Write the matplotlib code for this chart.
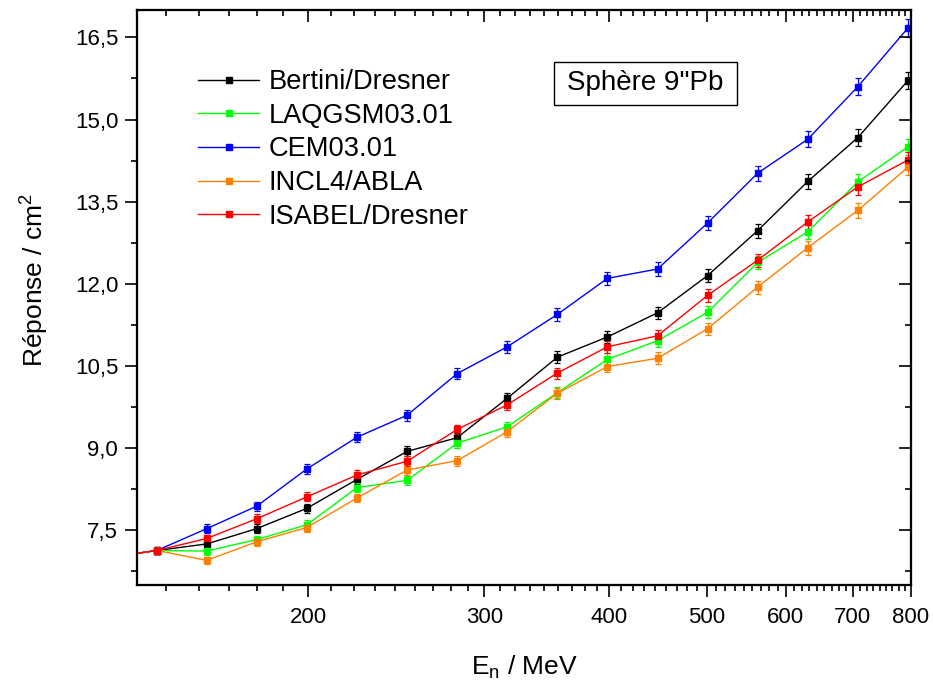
import matplotlib
matplotlib.use("Agg")
import matplotlib.pyplot as plt
from matplotlib.ticker import FixedLocator, FuncFormatter, NullFormatter, MultipleLocator
from matplotlib.patches import Rectangle

plt.rcParams['font.family'] = ['Liberation Sans', 'DejaVu Sans']
plt.rcParams['mathtext.fontset'] = 'custom'
plt.rcParams['mathtext.rm'] = 'Liberation Sans'
plt.rcParams['mathtext.it'] = 'Liberation Sans:italic'

# ---------------- data ----------------
energy = [125.9, 141.3, 158.5, 177.8, 199.5, 223.9, 251.2, 281.8, 316.2,
          354.8, 398.1, 446.7, 501.2, 562.3, 631.0, 707.9, 794.3]

bertini = [7.00, 7.13, 7.25, 7.53, 7.90, 8.43, 8.94, 9.19, 9.91,
           10.66, 11.03, 11.47, 12.15, 12.97, 13.87, 14.67, 15.71]
laqgsm = [7.00, 7.13, 7.12, 7.33, 7.60, 8.28, 8.41, 9.09, 9.39,
          10.01, 10.62, 10.96, 11.48, 12.39, 12.95, 13.86, 14.50]
cem = [7.00, 7.13, 7.53, 7.94, 8.62, 9.20, 9.60, 10.36, 10.85,
       11.44, 12.10, 12.27, 13.11, 14.02, 14.64, 15.60, 16.67]
incl = [7.00, 7.13, 6.95, 7.29, 7.55, 8.09, 8.60, 8.77, 9.30,
        10.00, 10.49, 10.64, 11.18, 11.94, 12.66, 13.34, 14.13]
isabel = [7.00, 7.13, 7.35, 7.71, 8.11, 8.51, 8.76, 9.34, 9.79,
          10.37, 10.85, 11.05, 11.79, 12.43, 13.13, 13.77, 14.26]

err_bertini = [0.07, 0.07, 0.07, 0.08, 0.08, 0.08, 0.09, 0.09, 0.10,
               0.11, 0.11, 0.11, 0.12, 0.13, 0.14, 0.15, 0.16]
err_laqgsm = [0.07, 0.07, 0.07, 0.07, 0.08, 0.08, 0.08, 0.09, 0.09,
              0.10, 0.11, 0.11, 0.11, 0.12, 0.13, 0.14, 0.15]
err_cem = [0.07, 0.07, 0.08, 0.08, 0.09, 0.09, 0.10, 0.10, 0.11,
           0.11, 0.12, 0.12, 0.13, 0.14, 0.15, 0.16, 0.17]
err_incl = [0.07, 0.07, 0.07, 0.07, 0.08, 0.08, 0.09, 0.09, 0.09,
            0.10, 0.10, 0.11, 0.11, 0.12, 0.13, 0.13, 0.14]
err_isabel = [0.07, 0.07, 0.07, 0.08, 0.08, 0.09, 0.09, 0.09, 0.10,
              0.10, 0.11, 0.11, 0.12, 0.12, 0.13, 0.14, 0.14]

labels = ['Bertini/Dresner', 'LAQGSM03.01', 'CEM03.01', 'INCL4/ABLA', 'ISABEL/Dresner']
series = [bertini, laqgsm, cem, incl, isabel]
errors = [err_bertini, err_laqgsm, err_cem, err_incl, err_isabel]
colors = ['#000000', '#00FF00', '#0000FF', '#FF8000', '#FF0000']

x_major = [200, 300, 400, 500, 600, 700, 800]
y_major = [7.5, 9.0, 10.5, 12.0, 13.5, 15.0, 16.5]
annotation = 'Sphère 9"Pb'

# ---------------- figure ----------------
W, H = 933, 691
fig = plt.figure(figsize=(W / 100, H / 100), dpi=100)
ax = fig.add_axes([137 / W, 1 - 585 / H, 774 / W, 575 / H])

handles = []
for y, e, c, lab in zip(series, errors, colors, labels):
    cont = ax.errorbar(energy, y, yerr=e, color=c, lw=1.0, marker='s', ms=4,
                       mec=c, mfc=c, elinewidth=0.9, capsize=2.5, capthick=0.9,
                       label=lab)
    handles.append(cont[0])

ax.set_xscale('log')
xlim = (135, 800)
ylim = (6.5, 17.0)
ax.set_xlim(*xlim)
ax.set_ylim(*ylim)

x_minor = []
for h in range(100, 800, 100):
    for j in range(1, 9):
        v = h + 100 * j / 9
        if xlim[0] <= v <= xlim[1]:
            x_minor.append(v)

def fmt_y(v, pos):
    return ('%.1f' % v).replace('.', ',')

ax.xaxis.set_major_locator(FixedLocator(x_major))
ax.xaxis.set_minor_locator(FixedLocator(x_minor))
ax.xaxis.set_major_formatter(FuncFormatter(lambda v, p: '%d' % round(v)))
ax.xaxis.set_minor_formatter(NullFormatter())
ax.yaxis.set_major_locator(FixedLocator(y_major))
ax.yaxis.set_minor_locator(MultipleLocator(0.75))
ax.yaxis.set_major_formatter(FuncFormatter(fmt_y))

ax.tick_params(axis='both', which='major', direction='out', length=8.5, width=1.2, labelsize=16)
ax.tick_params(axis='both', which='minor', direction='out', length=4.5, width=1.2)
ax.tick_params(axis='x', which='major', pad=7)
ax.tick_params(axis='y', which='major', pad=5)

# mirrored inward ticks on top and right
axt = ax.twiny()
axt.set_xscale('log')
axt.set_xlim(*xlim)
axt.xaxis.set_major_locator(FixedLocator(x_major))
axt.xaxis.set_minor_locator(FixedLocator(x_minor))
axt.xaxis.set_major_formatter(NullFormatter())
axt.xaxis.set_minor_formatter(NullFormatter())
axt.tick_params(axis='x', which='both', direction='in', top=True, bottom=False,
                labeltop=False, labelbottom=False, width=1.2)
axt.tick_params(axis='x', which='major', length=8.5)
axt.tick_params(axis='x', which='minor', length=4.5)

axr = ax.twinx()
axr.set_ylim(*ylim)
axr.yaxis.set_major_locator(FixedLocator(y_major))
axr.yaxis.set_minor_locator(MultipleLocator(0.75))
axr.yaxis.set_major_formatter(NullFormatter())
axr.tick_params(axis='y', which='both', direction='in', right=True, left=False,
                labelright=False, labelleft=False, width=1.2)
axr.tick_params(axis='y', which='major', length=8.5)
axr.tick_params(axis='y', which='minor', length=4.5)

for a in (ax, axt, axr):
    for s in a.spines.values():
        s.set_linewidth(1.5)

# axis labels
fig.text(524 / W, 1 - 675 / H, 'E$\\mathregular{_n}$ / MeV', ha='center', va='baseline', fontsize=19)
fig.text(35 / W, 1 - 280 / H, 'Réponse / cm$\\mathregular{^2}$', rotation=90,
         ha='center', va='center', fontsize=19)

# legend
leg = ax.legend(handles, labels, loc='upper left', bbox_to_anchor=(0.0788, 0.897),
                frameon=False, fontsize=19.6, handlelength=2.25, handletextpad=0.35,
                labelspacing=0.28, borderpad=0, borderaxespad=0, numpoints=1)

# annotation box
ax.add_patch(Rectangle((0.5388, 0.8348), 0.2364, 0.0753, transform=ax.transAxes,
                       fill=False, ec='black', lw=1.0, zorder=5))
ax.text(0.657, 0.873, annotation, transform=ax.transAxes, ha='center', va='center',
        fontsize=20, zorder=6)

fig.savefig('out.png', dpi=100)
